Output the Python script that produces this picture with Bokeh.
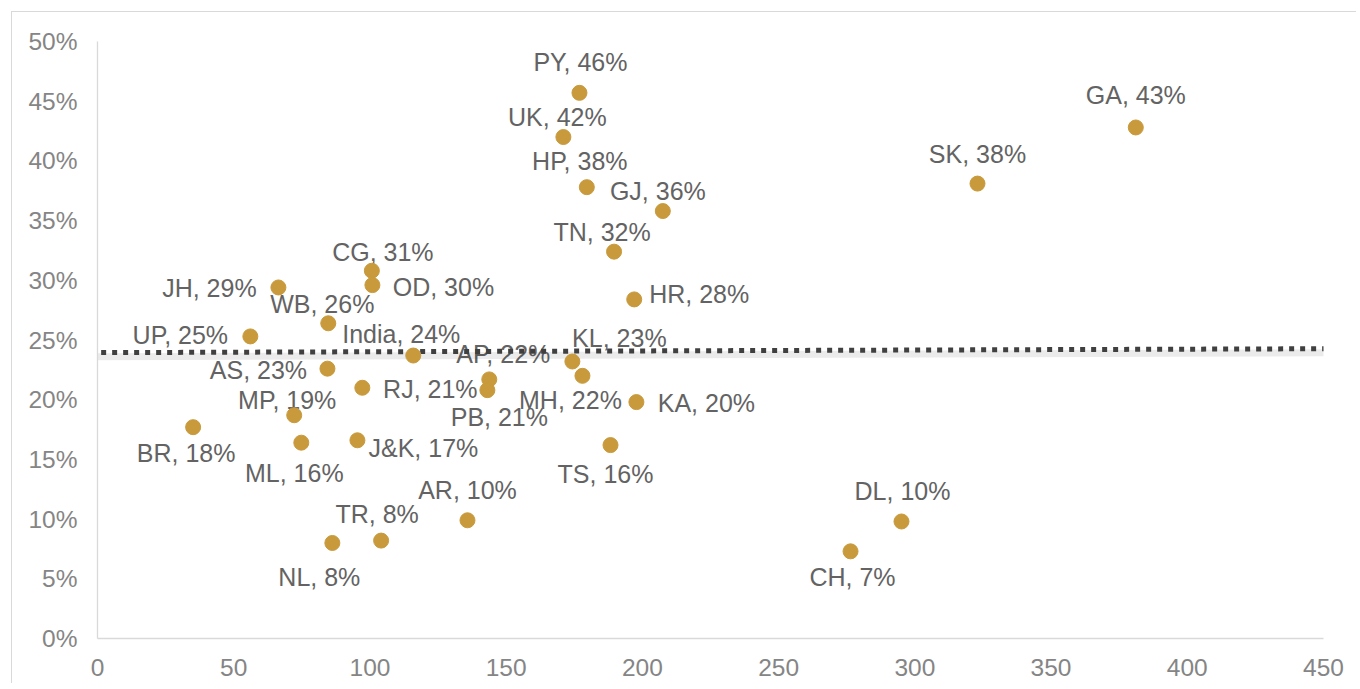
from bokeh.plotting import figure
from bokeh.models import ColumnDataSource, FixedTicker, PrintfTickFormatter, Range1d
from bokeh.core.properties import value
from bokeh.embed import file_html
from bokeh.resources import INLINE

# ---- data ----
states = ["PY", "UK", "HP", "GJ", "TN", "HR", "GA", "SK", "CG", "OD", "JH", "WB", "UP",
          "India", "AS", "RJ", "AP", "PB", "KL", "MH", "KA", "MP", "BR", "ML", "J&K",
          "TS", "AR", "TR", "NL", "DL", "CH"]
x_vals = [176.9, 171.0, 179.6, 207.5, 189.6, 197.0, 381.1, 323.0, 100.7, 100.9, 66.4, 84.7, 56.1,
          115.9, 84.4, 97.2, 143.8, 143.1, 174.3, 178.0, 197.8, 72.2, 35.1, 74.8, 95.4,
          188.3, 135.8, 104.1, 86.2, 295.1, 276.4]
y_vals = [45.7, 42.0, 37.8, 35.8, 32.4, 28.4, 42.8, 38.1, 30.8, 29.6, 29.4, 26.4, 25.3,
          23.7, 22.6, 21.0, 21.7, 20.8, 23.2, 22.0, 19.8, 18.7, 17.7, 16.4, 16.6,
          16.2, 9.9, 8.2, 8.0, 9.8, 7.3]
avg_x = [-2.7, 453.4]
avg_y = [23.94, 24.27]
x_ticks = [0, 50, 100, 150, 200, 250, 300, 350, 400, 450]
y_ticks = [0, 5, 10, 15, 20, 25, 30, 35, 40, 45, 50]

# label placement (pixel offsets of label centre from its point)
label_dx = [1, -6, -7, -5, -12, 65, 0, 0, 11, 71, -69, -6, -70,
            -12, -69, 68, 14, 12, 47, -12, 70, -7, -7, -7, 66,
            -5, 0, -4, -13, 1, 2]
label_dy = [-31, -20, -26, -20, -20, -5, -32, -30, -19, 2, 1, -19, -1,
            -22, 1, 1, -25, 27, -23, 24, 1, -15, 26, 30, 8,
            29, -30, -27, 34, -30, 26]

labels = [f"{s}, {int(round(v))}%" for s, v in zip(states, y_vals)]

src = ColumnDataSource(dict(x=x_vals, y=y_vals, lab=labels, dx=label_dx, dy=label_dy))

FONT = "Liberation Sans"

p = figure(width=1345, height=672, output_backend="svg", toolbar_location=None,
           x_range=Range1d(0, 450), y_range=Range1d(0, 50),
           min_border_left=85, min_border_top=29, min_border_right=34, min_border_bottom=46)
p.styles = {"margin-left": "11px", "margin-top": "11px",
            "border-left": "1px solid #d9d9d9", "border-top": "1px solid #d9d9d9"}
p.extra_y_ranges = {"shadow": Range1d(0.34, 50.34)}
p.background_fill_color = "white"
p.border_fill_color = "white"
p.outline_line_color = None
p.xgrid.visible = False
p.ygrid.visible = False

for ax in (p.xaxis[0], p.yaxis[0]):
    ax.axis_line_color = "#d9d9d9"
    ax.axis_line_width = 1.3
    ax.major_tick_line_color = None
    ax.minor_tick_line_color = None
    ax.major_tick_in = 0
    ax.major_tick_out = 0
    ax.major_label_text_font = FONT
    ax.major_label_text_font_size = "24.5px"
    ax.major_label_text_color = "#858585"

p.xaxis.ticker = FixedTicker(ticks=x_ticks)
p.yaxis.ticker = FixedTicker(ticks=y_ticks)
p.yaxis.formatter = PrintfTickFormatter(format="%d%%")
p.yaxis.major_label_standoff = 20
p.xaxis.major_label_standoff = 20

# labels
p.text(x="x", y="y", text="lab", source=src, x_offset="dx", y_offset="dy",
       text_align="center", text_baseline="middle",
       text_font=value(FONT), text_font_size="25px", text_color="#636363")

# average line with soft shadow
p.line(avg_x, avg_y, y_range_name="shadow", line_color="black", line_alpha=0.08, line_width=7)
p.line(avg_x, avg_y, line_color="#404040", line_width=5, line_dash="5 6", line_cap="butt")

# points
p.scatter(x="x", y="y", source=src, size=15, fill_color="#c89a3c", line_color="#c89a3c")

open("out.html", "w").write(file_html(p, INLINE))
